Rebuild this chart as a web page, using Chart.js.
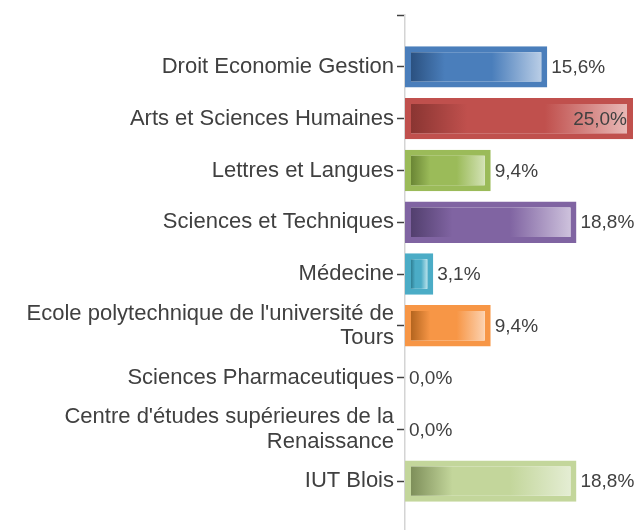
<!DOCTYPE html>
<html>
<head>
<meta charset="utf-8">
<script src="https://cdn.jsdelivr.net/npm/chart.js@4"></script>
<style>
  html, body { margin: 0; padding: 0; background: #fff; overflow: hidden; }
  #wrap { width: 639px; height: 548px; position: relative; }
</style>
</head>
<body>
<div id="wrap"><canvas id="chart"></canvas></div>
<script>
  const categories = [
    'Droit Economie Gestion',
    'Arts et Sciences Humaines',
    'Lettres et Langues',
    'Sciences et Techniques',
    'Médecine',
    ["Ecole polytechnique de l'université de", 'Tours'],
    'Sciences Pharmaceutiques',
    ["Centre d'études supérieures de la", 'Renaissance'],
    'IUT Blois'
  ];
  const shares = [15.6, 25.0, 9.4, 18.8, 3.1, 9.4, 0.0, 0.0, 18.8];
  const axisMax = 25;

  // mid / dark / light tones per bar
  const midColors   = ['#4a7ebb', '#c0504d', '#9bbb59', '#8064a2', '#4bacc6', '#f79646', '#9bbb59', '#9bbb59', '#c3d69b'];
  const darkColors  = ['#2b5180', '#8a3532', '#6a8635', '#523f6e', '#2f7f94', '#b4651f', '#6a8635', '#6a8635', '#7e8f5a'];
  const lightColors = ['#b9cde6', '#e8b8b6', '#d3e2b5', '#cdc1dc', '#b5e0ea', '#fcd2b0', '#d3e2b5', '#d3e2b5', '#e4edd3'];

  // blank slot above and below so the axis runs past the bars like in the picture
  const labels = [''].concat(categories, ['']);
  const values = [null].concat(shares, [null]);

  function fmt(v) {
    return v.toFixed(1).replace('.', ',') + '%';
  }

  function barFill(context) {
    const chart = context.chart;
    const i = context.dataIndex - 1;
    if (i < 0 || i >= shares.length) return '#fff';
    if (!chart.chartArea) return midColors[i];
    const x = chart.scales.x;
    const x0 = x.getPixelForValue(0);
    const x1 = x.getPixelForValue(shares[i]);
    if (x1 - x0 < 2) return midColors[i];
    const g = chart.ctx.createLinearGradient(x0 + 6, 0, x1 - 6, 0);
    g.addColorStop(0, darkColors[i]);
    g.addColorStop(0.26, midColors[i]);
    g.addColorStop(0.62, midColors[i]);
    g.addColorStop(1, lightColors[i]);
    return g;
  }

  const valueLabels = {
    id: 'valueLabels',
    afterDatasetsDraw(chart) {
      const ctx = chart.ctx;
      const meta = chart.getDatasetMeta(0);
      ctx.save();
      ctx.font = '19px "Liberation Sans", Arial, sans-serif';
      ctx.fillStyle = '#404040';
      ctx.textBaseline = 'middle';
      meta.data.forEach((el, idx) => {
        const v = values[idx];
        if (v === null) return;
        const text = fmt(v);
        const w = ctx.measureText(text).width;
        if (el.x + 4 + w > chart.width) {
          ctx.textAlign = 'right';
          ctx.fillText(text, el.x - 6, el.y + 1);
        } else {
          ctx.textAlign = 'left';
          ctx.fillText(text, el.x + 4, el.y + 1);
        }
      });
      ctx.restore();
    }
  };

  new Chart(document.getElementById('chart'), {
    type: 'bar',
    data: {
      labels: labels,
      datasets: [{
        data: values,
        backgroundColor: barFill,
        borderColor: ctx => midColors[ctx.dataIndex - 1] || '#fff',
        borderWidth: ctx => (values[ctx.dataIndex] ? 6 : 0),
        borderSkipped: false,
        categoryPercentage: 1,
        barPercentage: 0.8
      }]
    },
    plugins: [valueLabels],
    options: {
      indexAxis: 'y',
      responsive: true,
      maintainAspectRatio: false,
      animation: false,
      layout: { padding: { top: 15, right: 6, bottom: 0, left: 0 } },
      plugins: {
        legend: { display: false },
        tooltip: { enabled: false }
      },
      scales: {
        x: {
          type: 'linear',
          min: 0,
          max: axisMax,
          display: false
        },
        y: {
          type: 'category',
          offset: false,
          grid: {
            offset: false,
            drawOnChartArea: false,
            tickLength: 8,
            tickColor: '#404040',
            tickWidth: 1.5
          },
          border: { color: '#d4d4d4', width: 1.5 },
          ticks: {
            autoSkip: false,
            padding: 3,
            color: '#404040',
            font: { family: '"Liberation Sans", Arial, sans-serif', size: 22, lineHeight: 1.1 }
          },
          afterFit(scale) { scale.width = 405; }
        }
      }
    }
  });
</script>
</body>
</html>
